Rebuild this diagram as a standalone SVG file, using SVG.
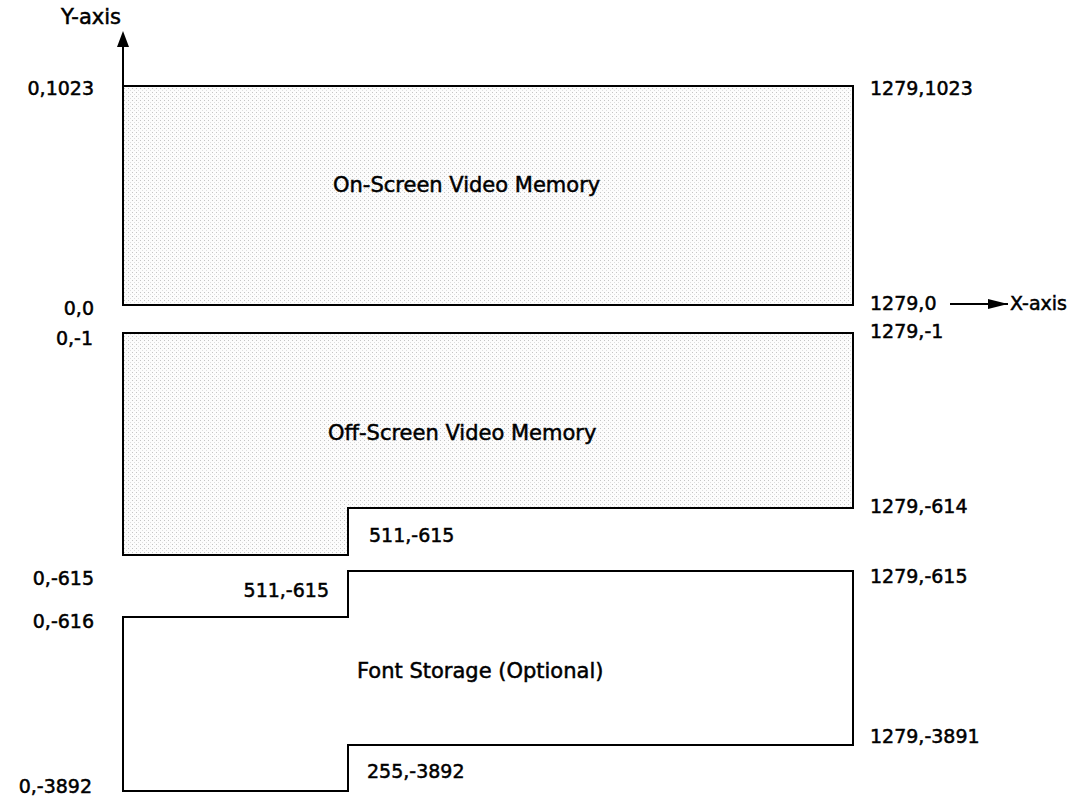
<svg xmlns="http://www.w3.org/2000/svg" width="1083" height="802" viewBox="0 0 1083 802">
<style>
text{font-family:"DejaVu Sans","Liberation Sans",Arial,sans-serif;font-size:19px;fill:#000;stroke:#000;stroke-width:0.5}
.r{text-anchor:end}
.t{font-size:21px}
.box{stroke:#000;stroke-width:2;stroke-linejoin:miter}
.axis{stroke:#000;stroke-width:2;fill:none}
</style>
<defs>
<pattern id="dots" width="4" height="4" patternUnits="userSpaceOnUse">
<rect width="4" height="4" fill="#fcfcfc"/>
<rect width="1" height="1" fill="#c4c4c4"/>
<rect x="2" y="2" width="1" height="1" fill="#dedede"/>
</pattern>
<marker id="ahx" viewBox="0 0 20 10" refX="20" refY="5" markerWidth="20" markerHeight="10" markerUnits="userSpaceOnUse" orient="auto">
<path d="M0,0 L20,5 L0,10 z" fill="#000"/>
</marker>
</defs>
<g id="connectors">
<line class="axis" x1="123" y1="305" x2="123" y2="46"/>
<path d="M123,31 L129,47 L117,47 z" fill="#000"/>
<line class="axis" x1="950" y1="304" x2="1008" y2="304" marker-end="url(#ahx)"/>
</g>
<g id="onscreen">
<rect class="box" x="123" y="86" width="730" height="219" fill="url(#dots)"/>
<text class="t" x="333" y="192">On-Screen Video Memory</text>
</g>
<g id="offscreen">
<path class="box" d="M123,333 H853 V508 H348 V555 H123 Z" fill="url(#dots)"/>
<text class="t" x="328" y="440">Off-Screen Video Memory</text>
</g>
<g id="fontstorage">
<path class="box" d="M348,571 H853 V745 H348 V791 H123 V617 H348 Z" fill="#fff"/>
<text class="t" x="357" y="678">Font Storage (Optional)</text>
</g>
<g id="labels">
<text class="t" x="61" y="24">Y-axis</text>
<text class="r" x="94" y="95">0,1023</text>
<text x="870" y="95">1279,1023</text>
<text class="r" x="94" y="315">0,0</text>
<text x="870" y="310">1279,0</text>
<text x="1010" y="310">X-axis</text>
<text class="r" x="93" y="345">0,-1</text>
<text x="870" y="338">1279,-1</text>
<text x="870" y="513">1279,-614</text>
<text x="369" y="542">511,-615</text>
<text class="r" x="94" y="585">0,-615</text>
<text class="r" x="329" y="597">511,-615</text>
<text x="870" y="583">1279,-615</text>
<text class="r" x="94" y="628">0,-616</text>
<text x="870" y="743">1279,-3891</text>
<text x="367" y="778">255,-3892</text>
<text class="r" x="92" y="793">0,-3892</text>
</g>
</svg>
